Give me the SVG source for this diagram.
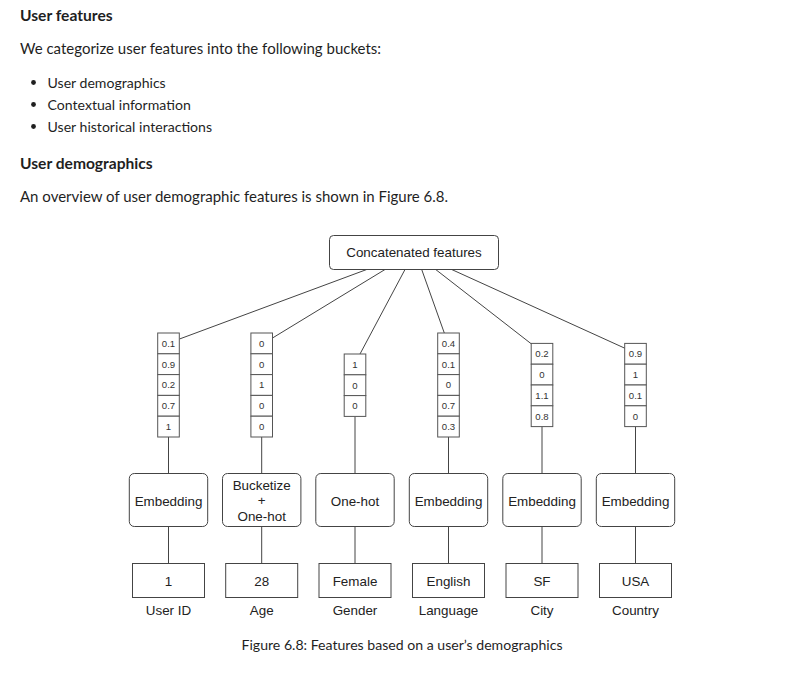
<svg xmlns="http://www.w3.org/2000/svg" width="785" height="674" viewBox="0 0 785 674">
<style>
.h{font-family:Lato,"Noto Sans",sans-serif;font-weight:bold;font-size:15.6px;fill:#1f1f1f}
.p{font-family:Lato,"Noto Sans",sans-serif;font-size:15px;fill:#1f1f1f}
.b{font-family:Lato,"Noto Sans",sans-serif;font-size:14.1px;fill:#1f1f1f}
.cap{font-family:Lato,"Noto Sans",sans-serif;font-size:14.1px;fill:#1f1f1f}
.t{font-family:"Liberation Sans",Arial,sans-serif;font-size:13.4px;fill:#222;text-anchor:middle}
.c{font-family:"Liberation Sans",Arial,sans-serif;font-size:9.6px;fill:#333;text-anchor:middle}
.box{fill:#fff;stroke:#444;stroke-width:1}
.cell{fill:#fff;stroke:#555;stroke-width:1}
.ln{stroke:#444;stroke-width:1;fill:none}
</style>
<rect width="785" height="674" fill="#fff"/>
<g id="text">
<text class="h" x="20" y="21">User features</text>
<text class="p" x="20" y="54">We categorize user features into the following buckets:</text>
<circle cx="33.5" cy="82.5" r="2.4" fill="#1f1f1f"/>
<text class="b" x="47.5" y="87.5">User demographics</text>
<circle cx="33.5" cy="104.5" r="2.4" fill="#1f1f1f"/>
<text class="b" x="47.5" y="109.5">Contextual information</text>
<circle cx="33.5" cy="126.5" r="2.4" fill="#1f1f1f"/>
<text class="b" x="47.5" y="131.5">User historical interactions</text>
<text class="h" x="20" y="168.5">User demographics</text>
<text class="p" x="20" y="201.5">An overview of user demographic features is shown in Figure 6.8.</text>
<text class="cap" x="241.5" y="650">Figure 6.8: Features based on a user’s demographics</text>
</g>
<g id="connectors">
<line class="ln" x1="366.7" y1="269.5" x2="179.5" y2="339"/>
<line class="ln" x1="385" y1="269.5" x2="272.5" y2="338"/>
<line class="ln" x1="405" y1="269.5" x2="360" y2="354"/>
<line class="ln" x1="421.7" y1="269.5" x2="444.3" y2="333"/>
<line class="ln" x1="435.7" y1="269.5" x2="531.5" y2="344"/>
<line class="ln" x1="451.7" y1="269.5" x2="625" y2="348.3"/>
<line class="ln" x1="168.5" y1="437" x2="168.5" y2="473.5"/>
<line class="ln" x1="261.7" y1="437" x2="261.7" y2="473.5"/>
<line class="ln" x1="355" y1="416.5" x2="355" y2="473.5"/>
<line class="ln" x1="448.5" y1="437" x2="448.5" y2="473.5"/>
<line class="ln" x1="542" y1="426.5" x2="542" y2="473.5"/>
<line class="ln" x1="635.5" y1="426.5" x2="635.5" y2="473.5"/>
<line class="ln" x1="168.5" y1="526.5" x2="168.5" y2="563.5"/>
<line class="ln" x1="261.7" y1="526.5" x2="261.7" y2="563.5"/>
<line class="ln" x1="355" y1="526.5" x2="355" y2="563.5"/>
<line class="ln" x1="448.5" y1="526.5" x2="448.5" y2="563.5"/>
<line class="ln" x1="542" y1="526.5" x2="542" y2="563.5"/>
<line class="ln" x1="635.5" y1="526.5" x2="635.5" y2="563.5"/>
</g>
<g id="concat">
<rect class="box" x="329.5" y="235.5" width="169" height="34" rx="4"/>
<text class="t" x="414" y="257.3">Concatenated features</text>
</g>
<g id="vec-userid">
<rect class="cell" x="157.7" y="333" width="21.6" height="20.8"/>
<rect class="cell" x="157.7" y="353.8" width="21.6" height="20.8"/>
<rect class="cell" x="157.7" y="374.6" width="21.6" height="20.8"/>
<rect class="cell" x="157.7" y="395.4" width="21.6" height="20.8"/>
<rect class="cell" x="157.7" y="416.2" width="21.6" height="20.8"/>
<text class="c" x="168.5" y="346.8">0.1</text>
<text class="c" x="168.5" y="367.6">0.9</text>
<text class="c" x="168.5" y="388.4">0.2</text>
<text class="c" x="168.5" y="409.2">0.7</text>
<text class="c" x="168.5" y="430">1</text>
</g>
<g id="vec-age">
<rect class="cell" x="250.9" y="333" width="21.6" height="20.8"/>
<rect class="cell" x="250.9" y="353.8" width="21.6" height="20.8"/>
<rect class="cell" x="250.9" y="374.6" width="21.6" height="20.8"/>
<rect class="cell" x="250.9" y="395.4" width="21.6" height="20.8"/>
<rect class="cell" x="250.9" y="416.2" width="21.6" height="20.8"/>
<text class="c" x="261.7" y="346.8">0</text>
<text class="c" x="261.7" y="367.6">0</text>
<text class="c" x="261.7" y="388.4">1</text>
<text class="c" x="261.7" y="409.2">0</text>
<text class="c" x="261.7" y="430">0</text>
</g>
<g id="vec-gender">
<rect class="cell" x="344.2" y="354" width="21.6" height="20.8"/>
<rect class="cell" x="344.2" y="374.8" width="21.6" height="20.8"/>
<rect class="cell" x="344.2" y="395.6" width="21.6" height="20.8"/>
<text class="c" x="355" y="367.8">1</text>
<text class="c" x="355" y="388.6">0</text>
<text class="c" x="355" y="409.4">0</text>
</g>
<g id="vec-language">
<rect class="cell" x="437.7" y="333" width="21.6" height="20.8"/>
<rect class="cell" x="437.7" y="353.8" width="21.6" height="20.8"/>
<rect class="cell" x="437.7" y="374.6" width="21.6" height="20.8"/>
<rect class="cell" x="437.7" y="395.4" width="21.6" height="20.8"/>
<rect class="cell" x="437.7" y="416.2" width="21.6" height="20.8"/>
<text class="c" x="448.5" y="346.8">0.4</text>
<text class="c" x="448.5" y="367.6">0.1</text>
<text class="c" x="448.5" y="388.4">0</text>
<text class="c" x="448.5" y="409.2">0.7</text>
<text class="c" x="448.5" y="430">0.3</text>
</g>
<g id="vec-city">
<rect class="cell" x="531.2" y="343.4" width="21.6" height="20.8"/>
<rect class="cell" x="531.2" y="364.2" width="21.6" height="20.8"/>
<rect class="cell" x="531.2" y="385" width="21.6" height="20.8"/>
<rect class="cell" x="531.2" y="405.8" width="21.6" height="20.8"/>
<text class="c" x="542" y="357.2">0.2</text>
<text class="c" x="542" y="378">0</text>
<text class="c" x="542" y="398.8">1.1</text>
<text class="c" x="542" y="419.6">0.8</text>
</g>
<g id="vec-country">
<rect class="cell" x="624.7" y="343.4" width="21.6" height="20.8"/>
<rect class="cell" x="624.7" y="364.2" width="21.6" height="20.8"/>
<rect class="cell" x="624.7" y="385" width="21.6" height="20.8"/>
<rect class="cell" x="624.7" y="405.8" width="21.6" height="20.8"/>
<text class="c" x="635.5" y="357.2">0.9</text>
<text class="c" x="635.5" y="378">1</text>
<text class="c" x="635.5" y="398.8">0.1</text>
<text class="c" x="635.5" y="419.6">0</text>
</g>
<g id="enc-userid">
<rect class="box" x="129.3" y="473.5" width="78.4" height="53" rx="5"/>
<text class="t" x="168.5" y="505.5">Embedding</text>
</g>
<g id="enc-age">
<rect class="box" x="222.5" y="473.5" width="78.4" height="53" rx="5"/>
<text class="t" x="261.7" y="489.5">Bucketize</text>
<text class="t" x="261.7" y="505">+</text>
<text class="t" x="261.7" y="521">One-hot</text>
</g>
<g id="enc-gender">
<rect class="box" x="315.8" y="473.5" width="78.4" height="53" rx="5"/>
<text class="t" x="355" y="505.5">One-hot</text>
</g>
<g id="enc-language">
<rect class="box" x="409.3" y="473.5" width="78.4" height="53" rx="5"/>
<text class="t" x="448.5" y="505.5">Embedding</text>
</g>
<g id="enc-city">
<rect class="box" x="502.8" y="473.5" width="78.4" height="53" rx="5"/>
<text class="t" x="542" y="505.5">Embedding</text>
</g>
<g id="enc-country">
<rect class="box" x="596.3" y="473.5" width="78.4" height="53" rx="5"/>
<text class="t" x="635.5" y="505.5">Embedding</text>
</g>
<g id="in-userid">
<rect class="box" x="132.5" y="563.5" width="72" height="34"/>
<text class="t" x="168.5" y="585.5">1</text>
<text class="t" x="168.5" y="614.5">User ID</text>
</g>
<g id="in-age">
<rect class="box" x="225.7" y="563.5" width="72" height="34"/>
<text class="t" x="261.7" y="585.5">28</text>
<text class="t" x="261.7" y="614.5">Age</text>
</g>
<g id="in-gender">
<rect class="box" x="319" y="563.5" width="72" height="34"/>
<text class="t" x="355" y="585.5">Female</text>
<text class="t" x="355" y="614.5">Gender</text>
</g>
<g id="in-language">
<rect class="box" x="412.5" y="563.5" width="72" height="34"/>
<text class="t" x="448.5" y="585.5">English</text>
<text class="t" x="448.5" y="614.5">Language</text>
</g>
<g id="in-city">
<rect class="box" x="506" y="563.5" width="72" height="34"/>
<text class="t" x="542" y="585.5">SF</text>
<text class="t" x="542" y="614.5">City</text>
</g>
<g id="in-country">
<rect class="box" x="599.5" y="563.5" width="72" height="34"/>
<text class="t" x="635.5" y="585.5">USA</text>
<text class="t" x="635.5" y="614.5">Country</text>
</g>
</svg>
